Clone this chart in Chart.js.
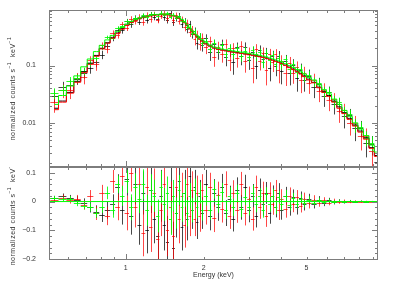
<!DOCTYPE html>
<html>
<head>
<meta charset="utf-8">
<script src="https://cdn.jsdelivr.net/npm/chart.js@4.4.1/dist/chart.umd.min.js"></script>
<style>
html, body { margin: 0; padding: 0; background: #fff; }
#wrap { position: relative; width: 407px; height: 282px; }
canvas { position: absolute; left: 0; }
#spec { top: 0; }
#resid { top: 167px; }
</style>
</head>
<body>
<div id="wrap">
<canvas id="spec" width="407" height="167"></canvas>
<canvas id="resid" width="407" height="115"></canvas>
</div>
<script>
// energy bin centres (keV)
const energy = [0.53,0.57,0.61,0.65,0.69,0.73,0.77,0.81,0.85,0.89,0.93,0.97,
  1.01,1.05,1.09,1.13,1.17,1.21,1.25,1.29,1.33,1.37,1.41,1.45,1.49,1.53,1.57,1.61,1.65,1.69,1.73,1.77,1.81,1.85,1.89,1.93,1.97,
  2.04,2.12,2.2,2.28,2.36,2.44,2.52,2.6,2.7,2.8,2.9,3.0,3.1,3.2,3.3,3.4,3.5,3.6,3.7,3.8,3.9,4.0,4.15,4.3,4.45,4.6,4.75,4.9,
  5.1,5.35,5.6,5.85,6.1,6.4,6.7,7.0,7.35,7.7,8.1,8.5,8.95,9.35];

// black
const counts1 = [0.030,0.042,0.046,0.059,0.074,0.090,0.115,0.155,0.22,0.30,0.42,0.41,
  0.59,0.52,0.68,0.58,0.72,0.62,0.78,0.70,0.65,0.795,0.695,0.63,0.81,0.58,0.67,0.74,0.53,0.59,0.44,0.53,0.36,0.40,0.25,0.31,0.23,
  0.30,0.17,0.233,0.173,0.237,0.142,0.187,0.113,0.208,0.144,0.210,0.126,0.172,0.098,0.184,0.130,0.165,0.090,0.145,0.100,0.145,0.080,0.122,0.074,0.102,0.060,0.085,0.056,
  0.066,0.043,0.048,0.030,0.034,0.021,0.021,0.013,0.0135,0.0080,0.0082,0.0045,0.0043,0.0021];
const err1 = [0.008,0.010,0.011,0.013,0.015,0.018,0.022,0.026,0.03,0.035,0.045,0.05,
  0.06,0.065,0.07,0.07,0.075,0.08,0.08,0.085,0.085,0.09,0.09,0.09,0.09,0.09,0.085,0.085,0.08,0.08,0.075,0.07,0.065,0.06,0.06,0.055,0.055,
  0.05,0.05,0.048,0.047,0.046,0.045,0.045,0.044,0.044,0.043,0.043,0.042,0.041,0.04,0.04,0.039,0.038,0.037,0.036,0.035,0.034,0.033,0.031,0.029,0.027,0.025,0.023,0.021,
  0.019,0.016,0.013,0.011,0.009,0.007,0.006,0.005,0.004,0.0032,0.0026,0.002,0.0016,0.0011];
const model1 = [0.018,0.024,0.034,0.053,0.078,0.11,0.15,0.20,0.25,0.31,0.37,0.44,
  0.51,0.57,0.62,0.66,0.69,0.72,0.74,0.76,0.77,0.775,0.775,0.77,0.76,0.74,0.71,0.67,0.62,0.56,0.50,0.44,0.39,0.35,0.32,0.29,0.27,
  0.24,0.22,0.203,0.193,0.187,0.182,0.177,0.173,0.168,0.164,0.160,0.156,0.152,0.148,0.144,0.140,0.135,0.130,0.125,0.120,0.115,0.110,0.102,0.094,0.087,0.080,0.073,0.066,
  0.058,0.051,0.042,0.035,0.030,0.024,0.019,0.015,0.012,0.0092,0.0072,0.0055,0.0037,0.0027];

// red
const counts2 = [0.023,0.037,0.037,0.061,0.063,0.125,0.105,0.225,0.195,0.37,0.34,0.52,
  0.46,0.66,0.59,0.71,0.575,0.765,0.645,0.785,0.635,0.74,0.83,0.665,0.735,0.615,0.755,0.605,0.635,0.475,0.555,0.385,0.425,0.285,0.345,0.237,0.307,
  0.208,0.268,0.143,0.213,0.158,0.240,0.125,0.201,0.136,0.222,0.118,0.164,0.090,0.196,0.122,0.168,0.083,0.158,0.113,0.158,0.083,0.118,0.075,0.112,0.075,0.093,0.056,0.074,
  0.050,0.057,0.036,0.038,0.025,0.026,0.016,0.0165,0.010,0.010,0.0059,0.0060,0.0032,0.0030];
const err2 = [0.008,0.010,0.011,0.013,0.016,0.02,0.024,0.028,0.032,0.04,0.045,0.055,
  0.06,0.065,0.07,0.075,0.08,0.08,0.085,0.085,0.09,0.09,0.09,0.09,0.09,0.09,0.085,0.085,0.08,0.08,0.075,0.07,0.065,0.06,0.06,0.055,0.055,
  0.05,0.05,0.048,0.047,0.046,0.045,0.045,0.044,0.044,0.043,0.043,0.042,0.041,0.04,0.04,0.039,0.038,0.037,0.036,0.035,0.034,0.033,0.031,0.029,0.027,0.025,0.023,0.021,
  0.018,0.015,0.013,0.011,0.009,0.007,0.006,0.005,0.004,0.0032,0.0026,0.002,0.0016,0.0012];
const model2 = [0.017,0.023,0.033,0.051,0.075,0.105,0.145,0.195,0.245,0.30,0.36,0.43,
  0.50,0.56,0.61,0.65,0.685,0.715,0.735,0.755,0.765,0.77,0.77,0.765,0.755,0.735,0.705,0.665,0.615,0.555,0.495,0.435,0.385,0.345,0.315,0.287,0.267,
  0.238,0.218,0.201,0.191,0.185,0.180,0.175,0.171,0.166,0.162,0.158,0.154,0.150,0.146,0.142,0.138,0.133,0.128,0.123,0.118,0.113,0.108,0.100,0.092,0.085,0.078,0.071,0.064,
  0.056,0.050,0.041,0.034,0.029,0.023,0.018,0.0145,0.0115,0.0088,0.0069,0.0052,0.0036,0.0026];

// green
const counts3 = [0.033,0.038,0.054,0.060,0.080,0.11,0.135,0.205,0.31,0.305,0.455,0.48,
  0.60,0.565,0.68,0.68,0.76,0.70,0.79,0.79,0.73,0.835,0.775,0.81,0.71,0.77,0.68,0.72,0.61,0.60,0.47,0.47,0.37,0.40,0.31,0.33,0.25,
  0.27,0.198,0.252,0.192,0.227,0.159,0.204,0.160,0.205,0.146,0.182,0.143,0.189,0.145,0.170,0.116,0.166,0.126,0.151,0.106,0.136,0.106,0.128,0.088,0.105,0.077,0.088,0.065,
  0.068,0.052,0.050,0.035,0.035,0.024,0.023,0.0153,0.014,0.0092,0.0085,0.0055,0.0045,0.0028];
const err3 = [0.007,0.008,0.009,0.010,0.012,0.014,0.016,0.019,0.022,0.026,0.03,0.035,
  0.04,0.045,0.048,0.05,0.052,0.054,0.055,0.056,0.057,0.057,0.057,0.057,0.056,0.055,0.054,0.052,0.05,0.048,0.046,0.044,0.042,0.04,0.038,0.037,0.036,
  0.034,0.033,0.032,0.031,0.031,0.03,0.03,0.03,0.029,0.029,0.028,0.028,0.027,0.027,0.026,0.026,0.025,0.025,0.024,0.023,0.022,0.021,0.02,0.019,0.018,0.016,0.015,0.014,
  0.012,0.010,0.009,0.0075,0.0065,0.0055,0.0045,0.0038,0.003,0.0025,0.002,0.0016,0.0013,0.001];
const model3 = [0.021,0.030,0.044,0.066,0.095,0.13,0.175,0.225,0.28,0.335,0.395,0.46,
  0.53,0.585,0.63,0.67,0.70,0.73,0.75,0.77,0.78,0.785,0.785,0.78,0.77,0.75,0.72,0.68,0.63,0.57,0.51,0.45,0.40,0.36,0.33,0.30,0.28,
  0.25,0.228,0.210,0.200,0.194,0.189,0.184,0.180,0.175,0.171,0.167,0.163,0.159,0.155,0.150,0.146,0.141,0.136,0.131,0.126,0.121,0.116,0.108,0.100,0.093,0.085,0.078,0.071,
  0.062,0.056,0.046,0.038,0.032,0.026,0.021,0.0165,0.013,0.010,0.0078,0.0060,0.0041,0.0031];

// ticks and labels
const xTicks = [0.6,0.7,0.8,0.9,1,2,3,4,5,6,7,8,9];
const xMajor = [1];
const xLabels = [1,2,5];
const specTicks = [0.002,0.003,0.004,0.005,0.006,0.007,0.008,0.009,0.01,0.02,0.03,0.04,0.05,0.06,0.07,0.08,0.09,0.1,0.2,0.3,0.4,0.5,0.6,0.7,0.8,0.9];
const specMajor = [0.01,0.1];
const specLabels = ['0.01','0.1'];
const residTicks = [-0.2,-0.18,-0.16,-0.14,-0.12,-0.1,-0.08,-0.06,-0.04,-0.02,0,0.02,0.04,0.06,0.08,0.1];
const residMajor = [-0.2,-0.1,0,0.1];
const residLabels = ['\u22120.2','\u22120.1','0','0.1'];

const colors = ['rgba(0,0,0,0.72)', 'rgba(255,0,0,0.72)', 'rgba(0,255,0,0.85)'];
const modelColors = ['#000000', '#ff0000', '#00ff00'];
const FONT = '"Liberation Sans", Arial, sans-serif';

function edges(i) {
  const n = energy.length;
  const lo = i > 0 ? Math.sqrt(energy[i-1] * energy[i]) : energy[0] * Math.sqrt(energy[0] / energy[1]);
  const hi = i < n - 1 ? Math.sqrt(energy[i] * energy[i+1]) : energy[i] * Math.sqrt(energy[i] / energy[i-1]);
  return [lo, hi];
}

function specPoints(counts, err) {
  return energy.map((e, i) => {
    const [lo, hi] = edges(i);
    return {x: e, y: counts[i], lo: lo, hi: hi, yLo: counts[i] - err[i], yHi: counts[i] + err[i]};
  });
}

function residPoints(counts, model, err) {
  return energy.map((e, i) => {
    const [lo, hi] = edges(i);
    const r = counts[i] - model[i];
    return {x: e, y: r, lo: lo, hi: hi, yLo: r - err[i], yHi: r + err[i]};
  });
}

const errorBars = {
  id: 'errorBars',
  beforeDatasetsDraw(chart) {
    const {ctx, chartArea: a} = chart;
    const x = chart.scales.x, y = chart.scales.y;
    ctx.save();
    ctx.beginPath();
    ctx.rect(a.left, a.top, a.right - a.left, a.bottom - a.top);
    ctx.clip();
    ctx.lineWidth = 1;
    chart.data.datasets.forEach(ds => {
      if (!ds.bars) return;
      ctx.strokeStyle = ds.barColor;
      ctx.beginPath();
      ds.data.forEach(p => {
        const px = Math.round(x.getPixelForValue(p.x)) + 0.5;
        const py = Math.round(y.getPixelForValue(p.y)) + 0.5;
        ctx.moveTo(x.getPixelForValue(p.lo), py);
        ctx.lineTo(x.getPixelForValue(p.hi), py);
        ctx.moveTo(px, y.getPixelForValue(p.yHi));
        ctx.lineTo(px, y.getPixelForValue(p.yLo));
      });
      ctx.stroke();
    });
    ctx.restore();
  }
};

function drawYTitle(ctx, cx, cy) {
  const parts = [['normalized counts s', 0], ['\u22121', 1], ['  keV', 0], ['\u22121', 1]];
  ctx.save();
  ctx.translate(cx, cy);
  ctx.rotate(-Math.PI / 2);
  ctx.fillStyle = '#333';
  ctx.textBaseline = 'middle';
  ctx.letterSpacing = '0.5px';
  let total = 0;
  parts.forEach(p => {
    ctx.font = (p[1] ? '5px ' : '7px ') + FONT;
    total += ctx.measureText(p[0]).width;
  });
  let pos = -total / 2;
  parts.forEach(p => {
    ctx.font = (p[1] ? '5px ' : '7px ') + FONT;
    ctx.textAlign = 'left';
    ctx.fillText(p[0], pos, p[1] ? -3 : 0);
    pos += ctx.measureText(p[0]).width;
  });
  ctx.restore();
}

function framePlugin(yTicks, yMajor, yLabelVals, yLabelText, withX) {
  return {
    id: 'frame',
    afterDraw(chart) {
      const {ctx, chartArea: a} = chart;
      const x = chart.scales.x, y = chart.scales.y;
      ctx.save();
      ctx.strokeStyle = '#7d7d7d';
      ctx.lineWidth = 1;
      ctx.strokeRect(a.left + 0.5, a.top + 0.5, a.right - a.left - 1, a.bottom - a.top - 1);
      ctx.beginPath();
      xTicks.forEach(v => {
        const px = Math.round(x.getPixelForValue(v)) + 0.5;
        const len = xMajor.includes(v) ? 6 : 3;
        ctx.moveTo(px, a.top); ctx.lineTo(px, a.top + len);
        ctx.moveTo(px, a.bottom); ctx.lineTo(px, a.bottom - len);
      });
      yTicks.forEach(v => {
        const py = Math.round(y.getPixelForValue(v)) + 0.5;
        if (py < a.top || py > a.bottom) return;
        const len = yMajor.includes(v) ? 6 : 3;
        ctx.moveTo(a.left, py); ctx.lineTo(a.left + len, py);
        ctx.moveTo(a.right, py); ctx.lineTo(a.right - len, py);
      });
      ctx.stroke();

      ctx.fillStyle = '#333';
      ctx.font = '7px ' + FONT;
      ctx.textAlign = 'right';
      ctx.textBaseline = 'middle';
      yLabelVals.forEach((v, i) => {
        ctx.fillText(yLabelText[i], a.left - 13, y.getPixelForValue(v));
      });
      if (withX) {
        ctx.textAlign = 'center';
        xLabels.forEach(v => {
          ctx.fillText(String(v), x.getPixelForValue(v), a.bottom + 8);
        });
        ctx.fillText('Energy (keV)', (a.left + a.right) / 2, a.bottom + 15);
      }
      drawYTitle(ctx, 13, (a.top + a.bottom) / 2);
      ctx.restore();
    }
  };
}

const xScale = {type: 'logarithmic', min: 0.505, max: 9.45, display: false};

function baseOptions(yScale, pad) {
  return {
    responsive: false,
    animation: false,
    events: [],
    layout: {padding: pad},
    plugins: {legend: {display: false}, tooltip: {enabled: false}},
    scales: {x: xScale, y: yScale}
  };
}

const allCounts = [counts1, counts2, counts3];
const allErr = [err1, err2, err3];
const allModel = [model1, model2, model3];

const specSets = [];
const residSets = [];
for (let k = 0; k < 3; k++) {
  specSets.push({data: specPoints(allCounts[k], allErr[k]), bars: true, barColor: colors[k], pointRadius: 0, showLine: false});
  residSets.push({data: residPoints(allCounts[k], allModel[k], allErr[k]), bars: true, barColor: colors[k], pointRadius: 0, showLine: false});
}
for (let k = 0; k < 3; k++) {
  specSets.push({
    data: energy.map((e, i) => ({x: e, y: allModel[k][i]})),
    showLine: true, stepped: 'middle', borderColor: modelColors[k], borderWidth: 1, pointRadius: 0, order: -k - 1
  });
}
residSets.push({
  data: [{x: 0.505, y: 0}, {x: 9.45, y: 0}],
  showLine: true, borderColor: modelColors[2], borderWidth: 1, pointRadius: 0, order: -5
});

new Chart(document.getElementById('spec'), {
  type: 'scatter',
  data: {datasets: specSets},
  options: baseOptions({type: 'logarithmic', min: 0.0017, max: 0.93, display: false}, {left: 49, right: 29, top: 10, bottom: 0}),
  plugins: [errorBars, framePlugin(specTicks, specMajor, specMajor, specLabels, false)]
});

new Chart(document.getElementById('resid'), {
  type: 'scatter',
  data: {datasets: residSets},
  options: baseOptions({type: 'linear', min: -0.203, max: 0.12, display: false}, {left: 49, right: 29, top: 0, bottom: 22}),
  plugins: [errorBars, framePlugin(residTicks, residMajor, residMajor, residLabels, true)]
});
</script>
</body>
</html>
